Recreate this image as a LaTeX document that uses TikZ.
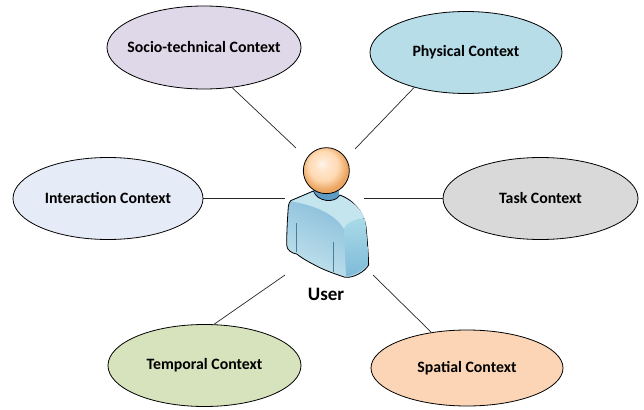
\documentclass[tikz,border=0pt]{standalone}
\usepackage{fontspec}
\setmainfont{Carlito}
\usetikzlibrary{shapes.geometric}
\definecolor{socioC}{HTML}{DFD8E8}
\definecolor{physC}{HTML}{B7DDE8}
\definecolor{taskC}{HTML}{D9D9D9}
\definecolor{interC}{HTML}{E6ECF7}
\definecolor{tempC}{HTML}{D7E3BC}
\definecolor{spatC}{HTML}{FBD5B5}
\definecolor{bodyA}{HTML}{7FB8D8}
\definecolor{bodyB}{HTML}{C4E4EE}
\definecolor{bodyD}{HTML}{5E9CC4}
\definecolor{bodyL}{HTML}{C2E2EC}
\definecolor{sleeveT}{HTML}{A8DAE8}
\definecolor{sleeveB}{HTML}{7FBAD8}
\pgfdeclareradialshading{headsh}{\pgfpoint{-5bp}{8bp}}{
  color(0bp)=(white!92!orange);
  color(7bp)=(white!80!orange);
  color(16bp)=(orange!30!white);
  color(25bp)=(orange!55!brown!70!white);
  color(50bp)=(orange!55!brown!80!white)}
\tikzset{
  ctx/.style={draw=black,line width=0.8pt,ellipse,inner sep=0pt,minimum width=192pt,minimum height=82pt,font=\fontsize{15.8}{18}\selectfont\bfseries,text=black},
  link/.style={draw=black!85,line width=0.7pt}
}
\begin{document}
\begin{tikzpicture}[x=1pt,y=-1pt]
\useasboundingbox (0,0) rectangle (644,409);
\node[ctx,fill=socioC,minimum width=194pt,minimum height=83pt] (socio) at (204,47.5) {\makebox[0pt][c]{Socio-technical Context}};
\node[ctx,fill=physC] (phys) at (466,52.5) {Physical Context};
\node[ctx,fill=taskC,minimum width=195pt] (task) at (540.5,198.5) {Task Context};
\node[ctx,fill=interC,minimum width=190pt] (inter) at (108,198.5) {Interaction Context};
\node[ctx,fill=tempC,minimum width=193pt] (temp) at (204.5,365.5) {Temporal Context};
\node[ctx,fill=spatC,minimum height=76pt] (spat) at (467,368) {Spatial Context};
\coordinate (u1) at (296,148);
\coordinate (u2) at (355,149);
\coordinate (u3) at (364,198.5);
\coordinate (u4) at (285,198.5);
\coordinate (u5) at (285,275);
\coordinate (u6) at (373,275);
\draw[link] (socio.-55) -- (u1);
\draw[link] (phys.214) -- (u2);
\draw[link] (task.west) -- (u3);
\draw[link] (inter.east) -- (u4);
\draw[link] (temp.77) -- (u5);
\draw[link] (spat.135) -- (u6);
% user figure
\begin{scope}[shift={(270,130)},x=0.3333pt,y=-0.3333pt]
  \fill[bodyD] (133,180) -- (207,180) -- (207,212) -- (133,212) -- cycle;
  \path[shading=axis,top color=bodyA,bottom color=bodyL,shading angle=-25,draw=black,line width=0.8pt]
    (62,212) -- (130,183) .. controls (140,215) and (195,222) .. (210,195)
    .. controls (245,208) and (280,240) .. (288,290)
    .. controls (292,330) and (295,370) .. (296,405)
    .. controls (285,425) and (250,445) .. (225,442)
    .. controls (190,430) and (160,420) .. (130,403)
    .. controls (105,390) and (90,380) .. (80,372)
    .. controls (65,370) and (50,360) .. (50,345)
    .. controls (50,310) and (52,270) .. (55,230)
    .. controls (56,222) and (58,216) .. (62,212) -- cycle;
  \fill[bodyB] (64,214) -- (130,186) .. controls (140,217) and (195,224) .. (210,198)
    .. controls (245,212) and (272,235) .. (284,265)
    .. controls (260,268) and (232,275) .. (222,297)
    .. controls (195,250) and (130,225) .. (64,214) -- cycle;
  \path[top color=sleeveT,bottom color=sleeveB] (222,297) .. controls (232,275) and (260,268) .. (285,267)
    .. controls (290,300) and (293,370) .. (294,403)
    .. controls (280,420) and (250,438) .. (228,439) -- cycle;
  \draw[bodyD!80!black,line width=0.8pt] (80,280) -- (80,367);
  \draw[bodyD!80!black,line width=0.8pt] (191,336) -- (191,426);
  \node[circle,draw=black,line width=0.8pt,minimum size=46pt,inner sep=0pt,
    shading=headsh] (head) at (169,122) {};
\end{scope}
\node[font=\fontsize{19}{21}\selectfont\bfseries,text=black] (user) at (326,294) {User};
\end{tikzpicture}
\end{document}
